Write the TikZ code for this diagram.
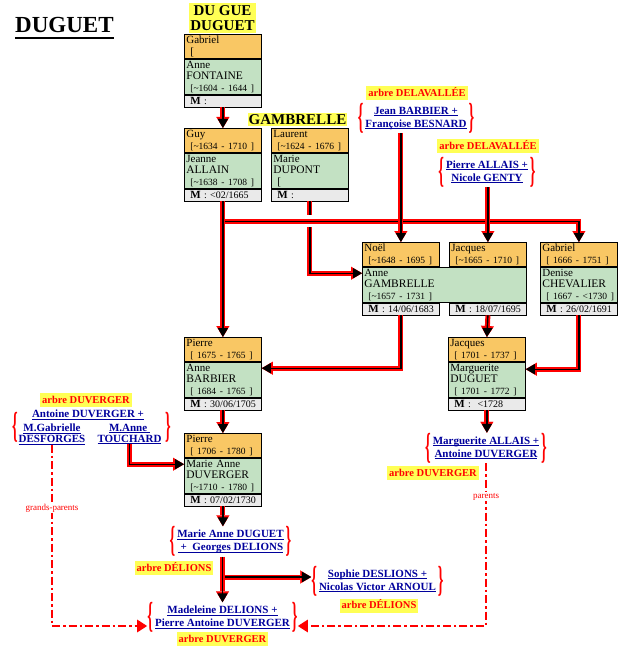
\documentclass[tikz,border=0pt]{standalone}
\usepackage{fontspec}
\setmainfont{Liberation Serif}
\usepackage{graphicx}
\usetikzlibrary{arrows.meta,calc}

\definecolor{orangefiche}{HTML}{F9C764}
\definecolor{vertfiche}{HTML}{C3E1C3}
\definecolor{grisfiche}{HTML}{EAEAEA}
\definecolor{jaune}{HTML}{FFFF55}
\definecolor{bleulien}{HTML}{00009C}

\def\lien#1{\leavevmode\setbox0\hbox{#1}\rlap{\rule[-2pt]{\wd0}{0.7pt}}\box0}
\def\accg{{\color{red}$\vcenter{\hbox{\scalebox{1.3}[3.3]{\bfseries\{}}}$}\hspace{2pt}}
\def\accd{\hspace{2pt}{\color{red}$\vcenter{\hbox{\scalebox{1.3}[3.3]{\bfseries\}}}}$}}
\def\couple#1#2{\accg\begin{tabular}{@{}c@{}}\lien{#1}\\\lien{#2}\end{tabular}\accd}
\def\nom#1{{\fontsize{11.5}{11}\selectfont #1}}
\def\dates#1{{\fontsize{9.5}{11}\selectfont\hspace*{4pt}[#1]}}
\def\mar#1{\hspace*{4pt}{\fontsize{11}{11}\selectfont\bfseries M} : #1}
\def\fiche#1(#2)#3#4#5{%
	\node[pere] (#1P) at (#2) {#3};
	\node[epouse] (#1E) at (#1P.south west) {#4};
	\node[mariage] (#1M) at (#1E.south west) {\mar{#5}};}

\tikzset{
	fiche/.style={draw, line width=0.8pt, anchor=north west, minimum width=77pt, text width=73pt, inner xsep=2pt, inner ysep=0pt, align=left},
	pere/.style={fiche, fill=orangefiche, minimum height=24pt, font=\fontsize{11}{12}\selectfont},
	epouse/.style={fiche, fill=vertfiche, minimum height=35pt, font=\fontsize{11}{11.5}\selectfont},
	mariage/.style={fiche, fill=grisfiche, minimum height=12pt, font=\fontsize{10}{11}\selectfont},
	famille/.style={text=bleulien, font=\fontsize{11}{13}\selectfont\bfseries, inner sep=0pt},
	arbre/.style={fill=jaune, text=red, font=\fontsize{10.5}{12}\selectfont\bfseries, inner xsep=2pt, inner ysep=2pt, text height=8pt, text depth=2pt},
	etiquette/.style={fill=white, text=red, font=\fontsize{9}{10}\selectfont, inner sep=1pt},
	fleche/.style={draw=black, line width=1.4pt, -{Triangle[length=9pt,width=10pt]},
		preaction={draw=red, line width=5pt, -{Triangle[length=11pt,width=13pt,line width=0.1pt,fill=red]}}},
	pont/.style={preaction={draw=white, line width=12pt, -}},
	pointille/.style={draw=red, line width=2.8pt, dash pattern=on 8pt off 3pt on 2.5pt off 3pt, -{Triangle[length=10pt,width=12pt]}},
}

\begin{document}
\begin{tikzpicture}[x=1pt, y=-1pt]
	%%%%% START %%%%%
	\useasboundingbox (0,0) rectangle (624,650);
	
	% titres
	\node[anchor=base west, inner sep=0pt, font=\fontsize{23}{23}\selectfont\bfseries] (titre) at (15,33) {DUGUET};
	\draw[line width=1.5pt] ([yshift=-5pt]titre.base west) -- ([yshift=-5pt]titre.base east);
	\node[fill=jaune, inner xsep=1pt, inner ysep=2pt, align=center, font=\fontsize{15}{15}\selectfont\bfseries] (dugue) at (222.5,18) {DU GUE\\DUGUET};
	\node[fill=jaune, inner xsep=1pt, inner ysep=1pt, text height=10.5pt, text depth=0.5pt, font=\fontsize{15}{15}\selectfont\bfseries] (gambrelle) at (297.5,119.5) {GAMBRELLE};
	
	% fiches
	\fiche{gabriel}(184,34){Gabriel\\ \hspace*{4pt}[}{Anne\\ \nom{FONTAINE}\\ \dates{\textasciitilde1604 - 1644 }}{}
	\fiche{guy}(184,128){Guy\\ \dates{\textasciitilde1634 - 1710 }}{Jeanne\\ \nom{ALLAIN}\\ \dates{\textasciitilde1638 - 1708 }}{<02/1665}
	\fiche{laurent}(271,128){Laurent\\ \dates{\textasciitilde1624 - 1676 }}{Marie\\ \nom{DUPONT}\\ \hspace*{4pt}[}{}
	
	\node[pere] (noelP) at (362,242) {Noël\\ \dates{\textasciitilde1648 - 1695 }};
	\node[pere] (jacquesP) at (449,242) {Jacques\\ \dates{\textasciitilde1665 - 1710 }};
	\node[epouse, minimum width=164pt, text width=160pt] (noelE) at (noelP.south west) {Anne\\ \nom{GAMBRELLE}\\ \dates{\textasciitilde1657 - 1731 }};
	\node[mariage] (noelM) at (noelE.south west) {\mar{14/06/1683}};
	\node[mariage, anchor=north east] (jacquesM) at (noelE.south east) {\mar{18/07/1695}};
	
	\fiche{gabrielB}(540,242){Gabriel\\ \dates{ 1666 - 1751 }}{Denise\\ \nom{CHEVALIER}\\ \dates{ 1667 - <1730 }}{26/02/1691}
	\fiche{pierre}(184,337){Pierre\\ \dates{ 1675 - 1765 }}{Anne\\ \nom{BARBIER}\\ \dates{ 1684 - 1765 }}{30/06/1705}
	\fiche{jacquesB}(448,337){Jacques\\ \dates{ 1701 - 1737 }}{Marguerite\\ \nom{DUGUET}\\ \dates{ 1701 - 1772 }}{\ <1728}
	\fiche{pierreB}(184,433){Pierre\\ \dates{ 1706 - 1780 }}{Marie Anne\\ \nom{DUVERGER}\\ \dates{\textasciitilde1710 - 1780 }}{07/02/1730}
	
	% arbres
	\node[arbre] (arbreA) at (417,93.5) {arbre DELAVALLÉE};
	\node[arbre] (arbreB) at (488,146) {arbre DELAVALLÉE};
	\node[arbre] (arbreC) at (86,400) {arbre DUVERGER};
	\node[arbre] (arbreD) at (433,473) {arbre DUVERGER};
	\node[arbre] (arbreE) at (174,568) {arbre DÉLIONS};
	\node[arbre] (arbreF) at (379,605.5) {arbre DÉLIONS};
	\node[arbre] (arbreG) at (222.5,639) {arbre DUVERGER};
	
	% couples
	\node[famille] (barbier) at (416,118) {\couple{Jean BARBIER +}{Françoise BESNARD}};
	\node[famille] (allais) at (487,172) {\couple{Pierre ALLAIS +}{Nicole GENTY}};
	\node[famille] (marguerite) at (486,448) {\couple{Marguerite ALLAIS +}{Antoine DUVERGER}};
	\node[famille] (duguet) at (230.5,541.5) {\couple{Marie Anne DUGUET}{\ +\ \ Georges DELIONS}};
	\node[famille] (sophie) at (377.5,581) {\couple{Sophie DESLIONS +}{Nicolas Victor ARNOUL}};
	\node[famille] (madeleine) at (222.5,617.5) {\couple{Madeleine DELIONS +}{Pierre Antoine DUVERGER}};
	
	\node[famille] (antoine) at (88,414.5) {\lien{Antoine DUVERGER +}};
	\node[famille, align=center, font=\fontsize{11}{11}\selectfont\bfseries] (desforges) at (52,434) {\lien{M.Gabrielle}\\\lien{DESFORGES}};
	\node[famille, align=center, font=\fontsize{11}{11}\selectfont\bfseries] (touchard) at (129.5,434) {\lien{M.Anne\ }\\\lien{TOUCHARD}};
	\node[famille] (accoladeG) at (15,427) {\accg};
	\node[famille] (accoladeD) at (167,427) {\accd};
	
	% liens
	\draw[fleche] (gabrielM.south) -- (guyP.north);
	\draw[fleche] (laurentM.south) |- ([yshift=11.5pt]noelE.west);
	\draw[pont, fleche] ($(guyM.south)+(0,20)$) -| (gabrielBP.north);
	\draw[fleche] (guyM.south) -- (pierreP.north);
	\draw[fleche] (barbier.south -| noelP.north) -- (noelP.north);
	\draw[fleche] (allais.south -| jacquesP.north) -- (jacquesP.north);
	\draw[fleche] (noelM.south) |- ([yshift=11.5pt]pierreE.east);
	\draw[fleche] (jacquesM.south) -- (jacquesBP.north);
	\draw[fleche] (gabrielBM.south) |- ([yshift=10.5pt]jacquesBE.east);
	\draw[fleche] (pierreM.south) -- (pierreBP.north);
	\draw[fleche] (jacquesBM.south) -- (jacquesBM.south |- marguerite.north);
	\draw[fleche] (touchard.south) |- ([yshift=11.5pt]pierreBE.west);
	\draw[fleche] (pierreBM.south) -- (pierreBM.south |- duguet.north);
	\draw[fleche] ($(madeleine.north |- sophie.west)+(0,-4)$) -- ($(sophie.west)+(0,-4)$);
	\draw[fleche] (duguet.south -| madeleine.north) -- (madeleine.north);
	
	\draw[pointille] (desforges.south) |- node[etiquette, pos=0.175] (gp) {grands-parents} ([yshift=-8.5pt]madeleine.west);
	\draw[pointille] (marguerite.south) |- node[etiquette, pos=0.103] (pa) {parents} ([yshift=-8.5pt]madeleine.east);
	
	%%%%% END %%%%%
\end{tikzpicture}
\end{document}
